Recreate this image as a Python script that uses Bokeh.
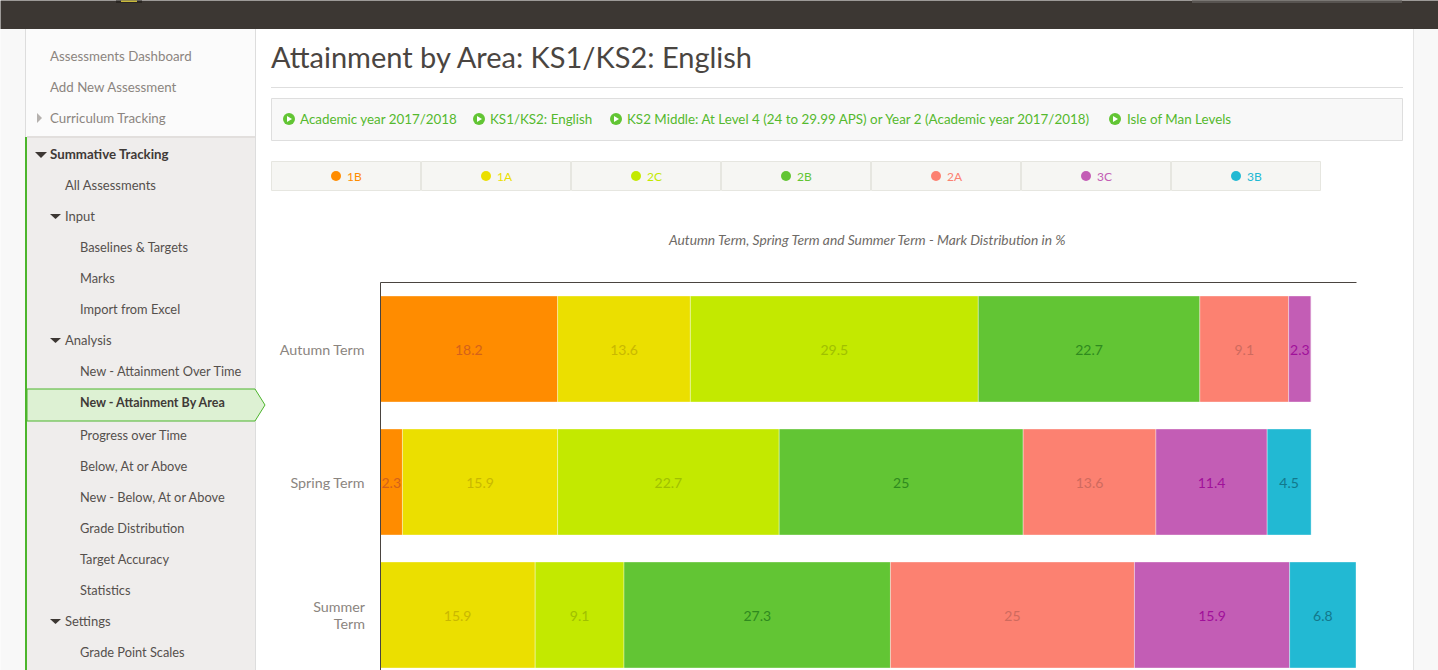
from bokeh.core.properties import value
from bokeh.embed import file_html
from bokeh.models import ColumnDataSource, FixedTicker, LinearAxis, Range1d
from bokeh.plotting import figure
from bokeh.resources import INLINE
import numpy as np

# chart values
terms = ["Autumn Term", "Spring Term", "Summer\nTerm"]
grades = ["1B", "1A", "2C", "2B", "2A", "3C", "3B"]
grade_1b = [18.2, 2.3, 0]
grade_1a = [13.6, 15.9, 15.9]
grade_2c = [29.5, 22.7, 9.1]
grade_2b = [22.7, 25, 27.3]
grade_2a = [9.1, 13.6, 25]
grade_3c = [2.3, 11.4, 15.9]
grade_3b = [0, 4.5, 6.8]
colors = ["#ff8c00", "#ebdf00", "#c3e900", "#62c534", "#fc8171", "#c35db5", "#22b9d3"]
label_colors = ["#d4621a", "#c9b800", "#a0c000", "#2f8a1e", "#cf6a5e", "#a0109a", "#12788c"]

# page furniture texts
menu_top = ["Assessments Dashboard", "Add New Assessment", "Curriculum Tracking"]
menu_mid = ["All Assessments", "Input", "Analysis", "Settings"]
menu_sub = ["Baselines & Targets", "Marks", "Import from Excel", "New - Attainment Over Time",
            "Progress over Time", "Below, At or Above", "New - Below, At or Above",
            "Grade Distribution", "Target Accuracy", "Statistics", "Grade Point Scales"]
filters = ["Academic year 2017/2018", "KS1/KS2: English",
           "KS2 Middle: At Level 4 (24 to 29.99 APS) or Year 2 (Academic year 2017/2018)",
           "Isle of Man Levels"]
page_title = "Attainment by Area: KS1/KS2: English"
chart_title = "Autumn Term, Spring Term and Summer Term - Mark Distribution in %"

FONT = value("Lato")
W, H = 1438, 670
OFF = 0.5  # small correction for where the frame lands on the canvas
PAGE = dict(x_range_name="page", y_range_name="page")

# chart area in page pixels: x 0..100 is 380..1356, rows are 133px apart from 349
x_range = Range1d((OFF - 380) / 9.76, (W + OFF - 380) / 9.76)
y_range = Range1d((H + OFF - 349) / 133, (OFF - 349) / 133)

p = figure(width=W, height=H, x_range=x_range, y_range=y_range, x_axis_type=None, y_axis_type=None,
           output_backend="svg", toolbar_location=None, tools="", min_border=0,
           background_fill_color="#ffffff", border_fill_color="#ffffff", outline_line_color=None)
p.grid.visible = False
p.extra_x_ranges["page"] = Range1d(OFF, W + OFF)
p.extra_y_ranges["page"] = Range1d(H + OFF, OFF)


def box(x0, x1, y0, y1, fill, line=None):
    p.quad(left=[x0], right=[x1], top=[y0], bottom=[y1], fill_color=fill, line_color=line, **PAGE)


def text(xs, ys, labels, color, size, align="left", style="normal"):
    p.text(x=xs, y=ys, text=labels, text_color=color, text_font=FONT, text_font_size=size,
           text_font_style=style, text_align=align, text_baseline="middle", **PAGE)


# page background
box(0, 25, 29, 671, "#f8f8f8")
box(1413, 1439, 29, 671, "#f8f8f8")
box(1413, 1414, 29, 671, "#e4e4e4")
box(0, 1439, 0, 29, "#3c3733")
box(1192, 1402, 0, 3, "#585451")
box(116, 142, 0, 3, "#2a2622")
box(121, 137, 0, 2, "#c9b93a")

# sidebar
box(25, 256, 29, 137, "#fbfbfb")
box(25, 26, 29, 137, "#dddddd")
box(27, 256, 137, 671, "#efedec")
box(27, 256, 136, 138, "#e2dfdd")
box(255, 256, 29, 671, "#dddddd")
box(25, 27, 137, 671, "#4cb52c")
p.patch(x=[27, 255, 265, 255, 27], y=[389, 389, 405, 421, 421], fill_color="#ddf1d3",
        line_color="#4cb52c", **PAGE)

text([50, 50, 50], [56, 87, 118], menu_top, "#8b8580", "13.3px")
text([50], [154], ["Summative Tracking"], "#3f3a37", "13.3px", style="bold")
text([65, 65, 65, 65], [185, 216, 340, 621], menu_mid, "#55504c", "13px")
text([80] * 11, [246.5, 277.5, 308.5, 370.5, 434.5, 465.5, 496.5, 527.5, 558.5, 589.5, 651.5],
     menu_sub, "#55504c", "12.8px")
text([80], [402.5], ["New - Attainment By Area"], "#3f3a37", "12.5px", style="bold")

p.patches(xs=[[37, 42, 37]], ys=[[113, 118, 123]], fill_color="#b5b1ae", line_color=None, **PAGE)
p.patches(xs=[[35, 47, 41], [50, 61, 55.5], [50, 61, 55.5], [50, 61, 55.5]],
          ys=[[152, 152, 158], [214, 214, 219], [338, 338, 343], [619, 619, 624]],
          fill_color="#3c3733", line_color=None, **PAGE)

# heading, filter bar and legend strip
text([271], [56], [page_title], "#4a4541", "29px")
box(271, 1403, 87, 88, "#dedede")
box(271.5, 1402.5, 98.5, 140.5, "#f8f8f8", "#dedede")

filter_dots = [289, 479, 616, 1115]
p.scatter(x=filter_dots, y=[119] * 4, marker="circle", size=12, fill_color="#62c534", line_color=None, **PAGE)
p.patches(xs=[[d - 2, d + 3, d - 2] for d in filter_dots], ys=[[116, 119, 122]] * 4,
          fill_color="#ffffff", line_color=None, **PAGE)
text([300, 490, 627, 1127], [119] * 4, filters, "#55b92e", "13.4px")

cell_lefts = [271, 421, 571, 721, 871, 1021, 1171]
for left in cell_lefts:
    box(left + 0.5, left + 149.5, 161.5, 190.5, "#f6f6f3", "#e6e6e0")
p.scatter(x=[left + 65 for left in cell_lefts], y=[176] * 7, marker="circle", size=10,
          fill_color=colors, line_color=None, **PAGE)
text([left + 76 for left in cell_lefts], [176.5] * 7, grades, colors, "12px")

text([868], [239], [chart_title], "#6e6a66", "13.8px", align="center", style="italic")

# stacked bars
series = [grade_1b, grade_1a, grade_2c, grade_2b, grade_2a, grade_3c, grade_3b]
rows = list(range(len(terms)))
source = ColumnDataSource(data=dict(row=rows, **dict(zip(grades, series))))
p.hbar_stack(grades, y="row", height=0.797, color=colors, source=source, line_color="#ffffff",
             line_alpha=0.35, line_width=1)

# value labels, centred in each segment
values = np.array(series, dtype=float)
lefts = np.vstack([np.zeros(len(terms)), np.cumsum(values, axis=0)[:-1]])
for g, vals in enumerate(series):
    shown = [r for r in rows if vals[r] > 0]
    p.text(x=[lefts[g][r] + vals[r] / 2 for r in shown], y=shown, text=[f"{vals[r]:g}" for r in shown],
           text_color=label_colors[g], text_font=FONT, text_font_size="14px", text_align="center",
           text_baseline="middle", y_offset=1)

# axes sit inside the frame, which covers the whole page
yaxis = LinearAxis(fixed_location=0, bounds=(-0.5, 3), ticker=FixedTicker(ticks=rows),
                   major_label_overrides=dict(zip(rows, terms)), major_tick_line_color=None,
                   minor_tick_line_color=None, major_label_standoff=9, axis_line_color="#4a4440",
                   major_label_text_color="#8b8580", major_label_text_font="Lato",
                   major_label_text_font_size="14.3px", major_label_text_line_height=1.0)
p.add_layout(yaxis, "left")
xaxis = LinearAxis(fixed_location=-0.5, bounds=(0, 100), ticker=FixedTicker(ticks=[]),
                   major_tick_line_color=None, minor_tick_line_color=None, axis_line_color="#4a4440")
p.add_layout(xaxis, "below")

open("out.html", "w").write(file_html(p, INLINE))
